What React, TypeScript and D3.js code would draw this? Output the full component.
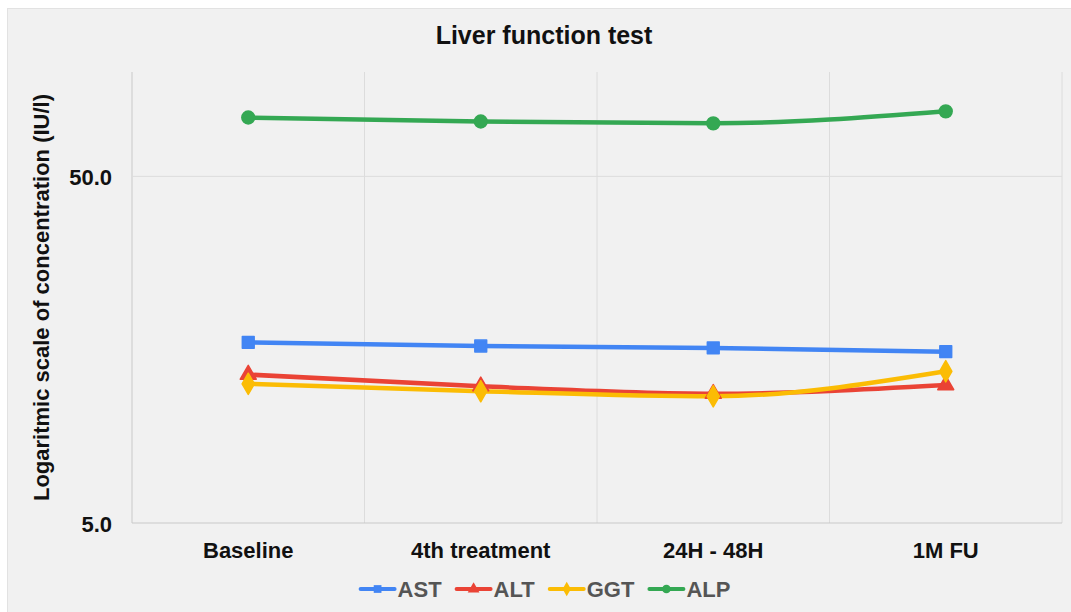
import React, { useEffect, useRef } from "react";
import * as d3 from "d3";

const categories = ["Baseline", "4th treatment", "24H - 48H", "1M FU"];
const seriesNames = ["AST", "ALT", "GGT", "ALP"];
const astValues = [16.6, 16.2, 16.0, 15.6];
const altValues = [13.4, 12.4, 11.8, 12.5];
const ggtValues = [12.6, 12.0, 11.6, 13.7];
const alpValues = [73.9, 72.0, 71.1, 77.0];
const yTicks = [5, 50];
const yDomain = [5, 100];
const colors = ["#4285F4", "#EA4335", "#FBBC04", "#34A853"];

const W = 1071;
const H = 612;
const FONT = "'Liberation Sans', Arial, sans-serif";

export default function App() {
  const ref = useRef<SVGSVGElement>(null);

  useEffect(() => {
    const svg = d3.select(ref.current);
    svg.selectAll("*").remove();

    const margin = { left: 132, right: 1062, top: 72, bottom: 523 };
    const x = d3.scaleBand<string>().domain(categories).range([margin.left, margin.right]);
    const y = d3.scaleLog().domain(yDomain).range([margin.bottom, margin.top]);

    // card background
    svg.append("rect").attr("x", 0).attr("y", 0).attr("width", W).attr("height", H).attr("fill", "#ffffff");
    svg.append("rect")
      .attr("x", 7.5).attr("y", 8.5).attr("width", W).attr("height", H)
      .attr("fill", "#f1f1f1").attr("stroke", "#e2e2e2");

    // title
    svg.append("text")
      .attr("x", 544).attr("y", 43.5)
      .attr("text-anchor", "middle")
      .attr("font-family", FONT).attr("font-weight", "bold").attr("font-size", 25)
      .attr("fill", "#111")
      .text("Liver function test");

    const g = svg.append("g");

    // vertical grid lines at band boundaries
    const boundaries = categories.map((c) => x(c)!).concat([margin.right]);
    g.selectAll("line.vg").data(boundaries).enter().append("line")
      .attr("x1", (d) => d).attr("x2", (d) => d)
      .attr("y1", margin.top).attr("y2", margin.bottom)
      .attr("stroke", (d, i) => (i === 0 ? "#c9c9c9" : "#dcdcdc")).attr("stroke-width", 1);

    // horizontal grid
    g.selectAll("line.hg").data(yTicks).enter().append("line")
      .attr("x1", margin.left).attr("x2", margin.right)
      .attr("y1", (d) => y(d)).attr("y2", (d) => y(d))
      .attr("stroke", (d) => (d === yDomain[0] ? "#c9c9c9" : "#dcdcdc")).attr("stroke-width", 1);

    // y tick labels
    g.selectAll("text.yt").data(yTicks).enter().append("text")
      .attr("x", 112).attr("y", (d) => y(d) + 8.5)
      .attr("text-anchor", "end")
      .attr("font-family", FONT).attr("font-weight", "bold").attr("font-size", 22)
      .attr("fill", "#111")
      .text((d) => d3.format(".1f")(d));

    // x labels
    g.selectAll("text.xt").data(categories).enter().append("text")
      .attr("x", (d) => x(d)! + x.bandwidth() / 2).attr("y", 558)
      .attr("text-anchor", "middle")
      .attr("font-family", FONT).attr("font-weight", "bold").attr("font-size", 22)
      .attr("fill", "#111")
      .text((d) => d);

    // y axis title
    svg.append("text")
      .attr("transform", `translate(48.5,${(margin.top + margin.bottom) / 2}) rotate(-90)`)
      .attr("text-anchor", "middle")
      .attr("font-family", FONT).attr("font-weight", "bold").attr("font-size", 22)
      .attr("fill", "#111")
      .text("Logaritmic scale of concentration (IU/l)");

    const allSeries = [astValues, altValues, ggtValues, alpValues];
    const symbols = [d3.symbolSquare, d3.symbolTriangle, d3.symbolDiamond, d3.symbolCircle];
    const symSizes = [140, 110, 130, 130];

    const line = d3.line<number>()
      .x((d, i) => x(categories[i])! + x.bandwidth() / 2)
      .y((d) => y(d))
      .curve(d3.curveMonotoneX);

    allSeries.forEach((vals, si) => {
      g.append("path")
        .attr("d", line(vals)!)
        .attr("fill", "none")
        .attr("stroke", colors[si]).attr("stroke-width", 4.5)
        .attr("stroke-linejoin", "round").attr("stroke-linecap", "round");
    });
    allSeries.forEach((vals, si) => {
      g.selectAll(null).data(vals).enter().append("path")
        .attr("transform", (d, i) => `translate(${x(categories[i])! + x.bandwidth() / 2},${y(d)})`)
        .attr("d", d3.symbol().type(symbols[si]).size(symSizes[si])()!)
        .attr("fill", colors[si])
        .attr("stroke", colors[si]).attr("stroke-width", 1.5).attr("stroke-linejoin", "round");
    });

    // legend
    const lg = svg.append("g");
    const lineLen = 34;
    const gapText = 3;
    const gapItem = 15;
    const items = seriesNames.map((name, i) => {
      const it = lg.append("g");
      it.append("line").attr("x1", 0).attr("x2", lineLen).attr("y1", 0).attr("y2", 0)
        .attr("stroke", colors[i]).attr("stroke-width", 4).attr("stroke-linecap", "round");
      it.append("path").attr("transform", `translate(${lineLen / 2},0)`)
        .attr("d", d3.symbol().type(symbols[i]).size(60)()!)
        .attr("fill", colors[i]);
      const t = it.append("text").attr("x", lineLen + gapText).attr("y", 8)
        .attr("font-family", FONT).attr("font-weight", "bold").attr("font-size", 22)
        .attr("fill", "#555555").text(name);
      const tw = (t.node() as SVGTextElement).getComputedTextLength();
      return { it, w: lineLen + gapText + tw };
    });
    const total = items.reduce((s, d) => s + d.w, 0) + gapItem * (items.length - 1);
    let cx = 545.5 - total / 2;
    items.forEach((d) => {
      d.it.attr("transform", `translate(${cx},589)`);
      cx += d.w + gapItem;
    });
  }, []);

  return (
    <svg
      ref={ref}
      width={W}
      height={H}
      style={{ position: "absolute", left: 0, top: 0, display: "block" }}
    />
  );
}
